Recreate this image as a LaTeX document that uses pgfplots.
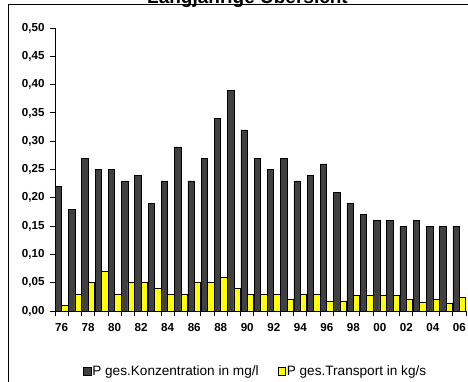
\documentclass[border=0pt]{standalone}
\usepackage{pgfplots}
\pgfplotsset{compat=1.18}
\usepackage{pgfplotstable}
\usepackage{fontspec}
\setmainfont{Liberation Sans}

\definecolor{konz}{HTML}{404040}
\definecolor{trans}{HTML}{FFFF00}

% i = year index (0 = 1976)
\pgfplotstableread{
i  konz  trans
0  0.22  0.010
1  0.18  0.030
2  0.27  0.050
3  0.25  0.070
4  0.25  0.030
5  0.23  0.050
6  0.24  0.050
7  0.19  0.040
8  0.23  0.030
9  0.29  0.030
10 0.23  0.050
11 0.27  0.050
12 0.34  0.060
13 0.39  0.040
14 0.32  0.030
15 0.27  0.030
16 0.25  0.030
17 0.27  0.020
18 0.23  0.030
19 0.24  0.029
20 0.26  0.018
21 0.21  0.018
22 0.19  0.028
23 0.17  0.027
24 0.16  0.027
25 0.16  0.027
26 0.15  0.020
27 0.16  0.016
28 0.15  0.020
29 0.15  0.013
30 0.15  0.024
}\data

\begin{document}
\begin{tikzpicture}
\begin{axis}[
    at={(55pt,70pt)}, anchor=south west,
    scale only axis, width=411pt, height=283pt,
    xmin=-0.5, xmax=30.5, ymin=0, ymax=0.5,
    axis lines*=left,
    axis line style={line width=1pt},
    tick style={line width=1pt, black},
    tick align=outside, major tick length=5pt,
    ybar=0pt, bar width=6.4pt,
    xtick={-0.5,0.5,...,30.5}, xticklabels={},
    extra x ticks={0,2,...,30},
    extra x tick labels={76,78,80,82,84,86,88,90,92,94,96,98,00,02,04,06},
    extra x tick style={major tick length=0pt, tick style={draw=none}},
    ytick={0,0.05,0.10,0.15,0.20,0.25,0.30,0.35,0.40,0.45,0.50},
    ticklabel style={font=\fontsize{11.6}{13}\selectfont\bfseries},
    xticklabel style={yshift=-8.5pt},
    yticklabel style={xshift=-2pt, /pgf/number format/.cd, fixed, fixed zerofill,
        precision=2, use comma, assume math mode=true},
    legend image code/.code={\draw[#1, line width=0.5pt] (0pt,-3.85pt) rectangle (7.7pt,3.85pt);},
    legend style={at={(0.487,-0.212)}, anchor=center, draw=none, fill=none,
        font=\fontsize{13.6}{15}\selectfont, legend columns=2,
        nodes={inner sep=1pt},
        /tikz/every even column/.append style={column sep=18pt}},
]
\addplot[fill=konz, draw=black, line width=0.6pt] table[x=i, y=konz] {\data};
\addplot[fill=trans, draw=black, line width=0.6pt] table[x=i, y=trans] {\data};
\legend{P ges.Konzentration in mg/l, P ges.Transport in kg/s}
\end{axis}
\draw[line width=1.3pt] (8.3pt,-5pt) -- (8.3pt,376.2pt) -- (480pt,376.2pt);
\node[anchor=base, inner sep=0pt, font=\fontsize{19}{21}\selectfont\bfseries]
    at (247.5pt,377pt) {Langjährige Übersicht};
\pgfresetboundingbox
\useasboundingbox (0,0) rectangle (468pt,381pt);
\end{tikzpicture}
\end{document}
